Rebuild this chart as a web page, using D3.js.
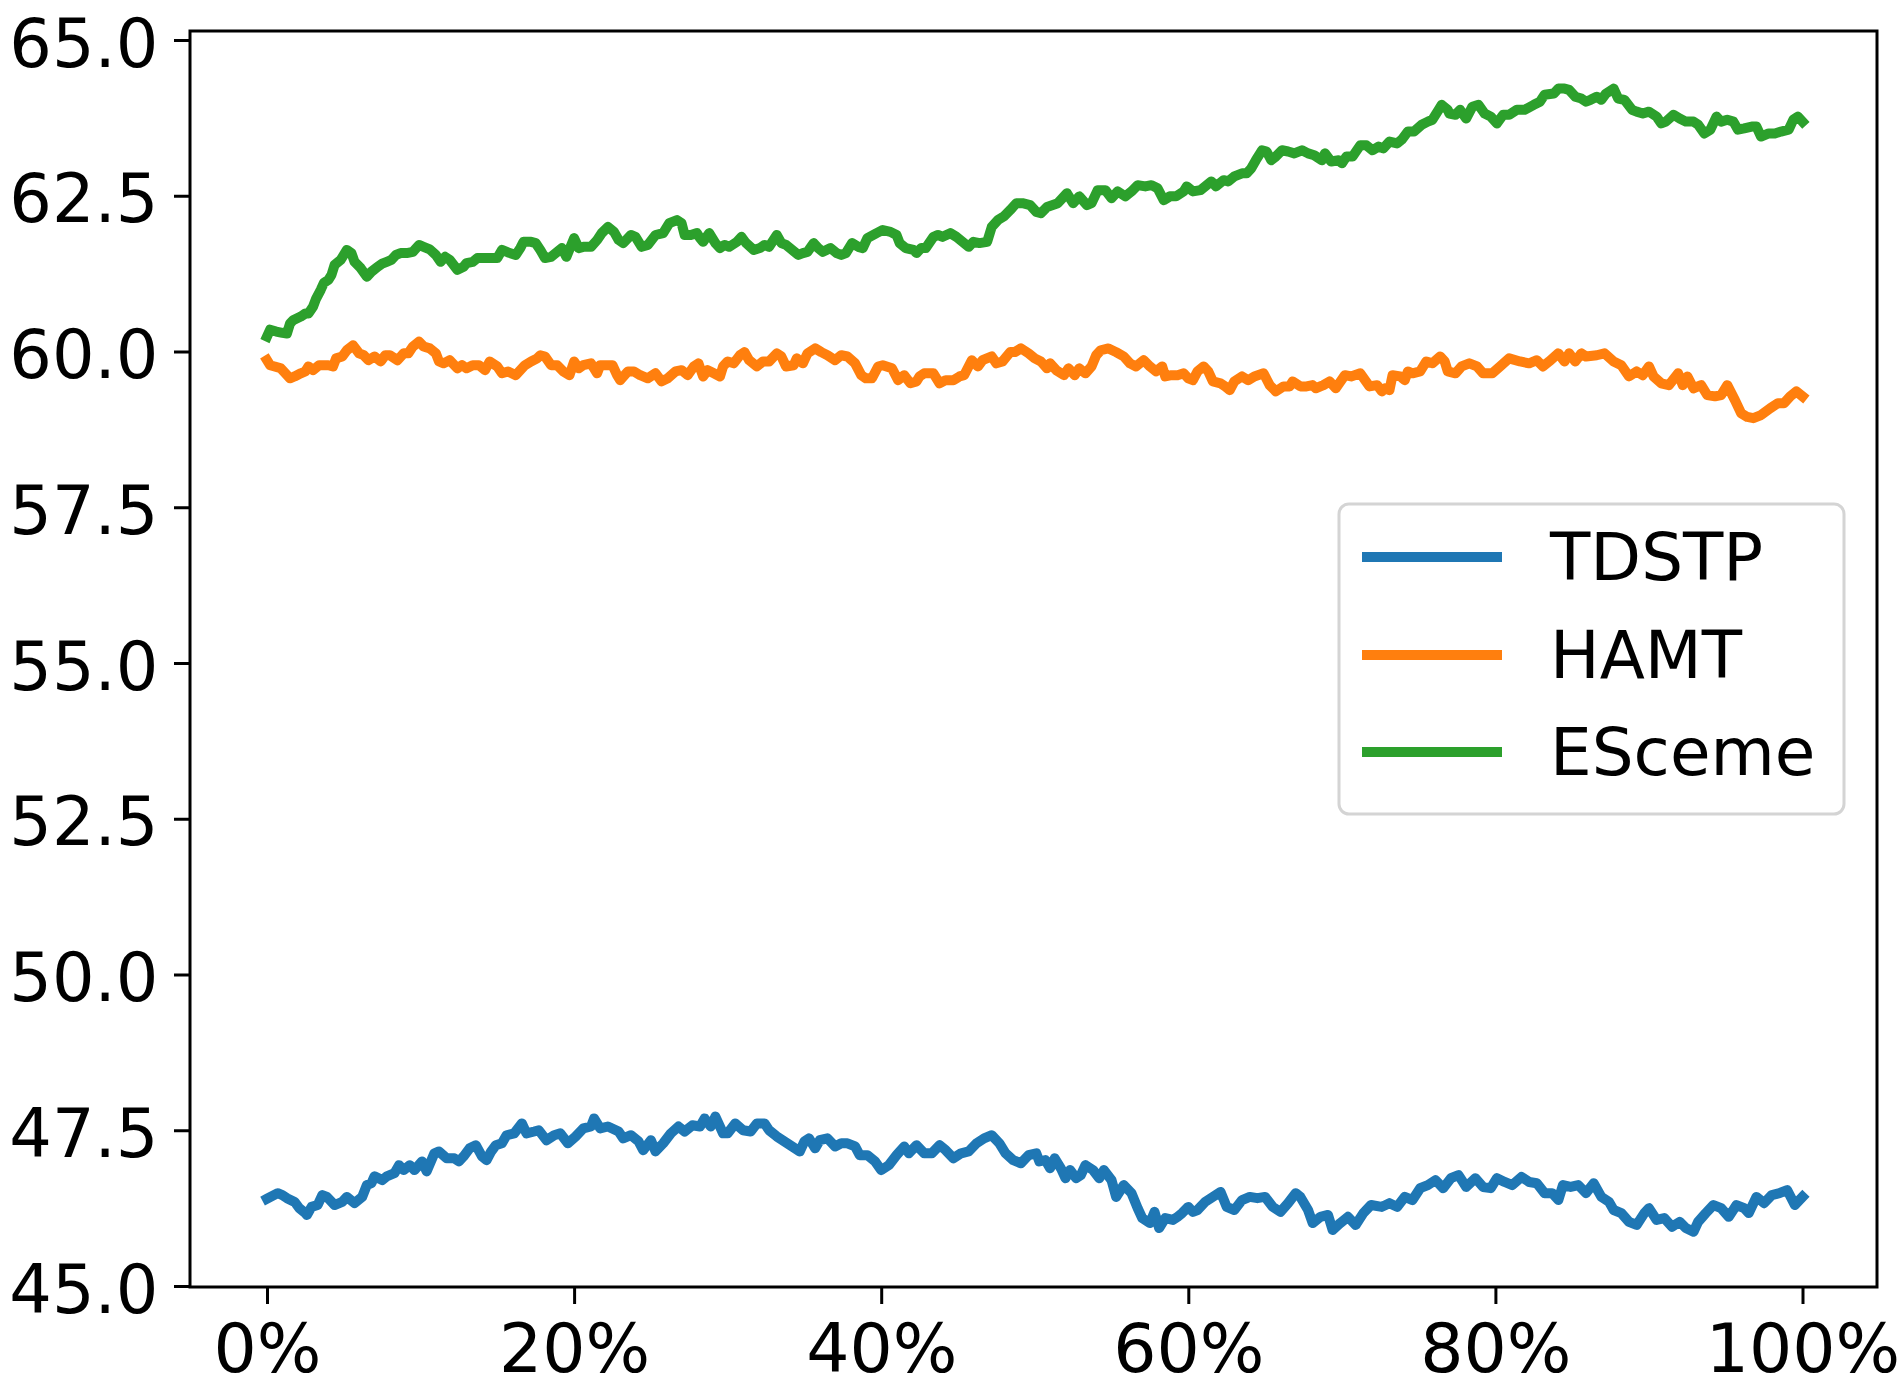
<!DOCTYPE html>
<html><head><meta charset="utf-8">
<script src="https://cdn.jsdelivr.net/npm/d3@7"></script>
<style>body{margin:0;background:#fff} text{font-family:"DejaVu Sans",sans-serif;fill:#000}</style>
</head><body><svg id="c" width="1902" height="1390"></svg>
<script>
const seriesNames = ["TDSTP", "HAMT", "ESceme"];
const seriesColors = ["#1f77b4", "#ff7f0e", "#2ca02c"];
const xTicks = [0, 20, 40, 60, 80, 100];
const yTicks = [45, 47.5, 50, 52.5, 55, 57.5, 60, 62.5, 65];

const tdstp = [[0,46.40],[0.7,46.49],[1.0,46.46],[1.3,46.41],[1.8,46.35],[2.1,46.25],[2.5,46.17],[2.6,46.14],[2.9,46.27],[3.3,46.30],[3.6,46.46],[3.9,46.43],[4.4,46.30],[4.9,46.35],[5.2,46.43],[5.7,46.33],[6.2,46.43],[6.5,46.62],[6.8,46.65],[7.0,46.76],[7.5,46.70],[7.8,46.76],[8.3,46.81],[8.6,46.94],[8.9,46.86],[9.3,46.94],[9.6,46.86],[10.1,47.00],[10.4,46.84],[10.9,47.13],[11.2,47.16],[11.7,47.05],[12.2,47.05],[12.5,47.00],[12.8,47.08],[13.2,47.21],[13.6,47.26],[14.0,47.08],[14.3,47.02],[14.6,47.16],[14.9,47.26],[15.3,47.29],[15.6,47.42],[16.1,47.45],[16.6,47.61],[16.9,47.45],[17.4,47.48],[17.7,47.50],[18.2,47.34],[18.7,47.42],[19.1,47.45],[19.6,47.29],[20.1,47.40],[20.6,47.53],[21.1,47.56],[21.3,47.69],[21.7,47.53],[22.2,47.56],[22.9,47.48],[23.2,47.37],[23.7,47.42],[24.2,47.32],[24.5,47.18],[25.0,47.34],[25.3,47.16],[25.8,47.29],[26.3,47.45],[26.8,47.56],[27.2,47.48],[27.7,47.58],[28.2,47.56],[28.5,47.69],[28.9,47.56],[29.2,47.72],[29.7,47.45],[30.0,47.45],[30.5,47.61],[31.0,47.50],[31.5,47.48],[31.9,47.61],[32.4,47.61],[32.7,47.50],[33.2,47.40],[33.7,47.32],[34.2,47.24],[34.7,47.16],[35.0,47.32],[35.3,47.37],[35.7,47.21],[36.0,47.34],[36.5,47.37],[37.0,47.24],[37.4,47.29],[37.8,47.29],[38.3,47.24],[38.6,47.10],[39.1,47.10],[39.6,47.00],[40.0,46.86],[40.5,46.94],[41.0,47.10],[41.5,47.24],[41.8,47.13],[42.3,47.26],[42.8,47.13],[43.3,47.13],[43.8,47.26],[44.2,47.18],[44.7,47.05],[45.2,47.13],[45.7,47.16],[46.2,47.29],[46.7,47.37],[47.2,47.42],[47.7,47.29],[48.1,47.13],[48.6,47.02],[49.1,46.97],[49.6,47.10],[50.1,47.13],[50.3,47.00],[50.7,47.02],[51.0,46.89],[51.3,47.05],[51.7,46.89],[52.0,46.73],[52.3,46.86],[52.7,46.73],[53.0,46.78],[53.3,46.94],[53.8,46.86],[54.2,46.73],[54.5,46.86],[55.0,46.70],[55.3,46.43],[55.8,46.62],[56.3,46.49],[56.7,46.25],[57.0,46.09],[57.5,46.01],[57.8,46.19],[58.1,45.93],[58.5,46.09],[59.0,46.06],[59.3,46.11],[59.6,46.17],[60.0,46.27],[60.3,46.19],[60.6,46.22],[61.1,46.35],[61.6,46.43],[62.1,46.51],[62.5,46.27],[63.0,46.22],[63.5,46.38],[64.0,46.43],[64.5,46.41],[65.0,46.43],[65.5,46.27],[66.0,46.19],[66.5,46.33],[67.0,46.49],[67.3,46.43],[67.8,46.22],[68.1,46.01],[68.6,46.11],[69.1,46.14],[69.4,45.90],[69.9,46.01],[70.4,46.11],[70.9,45.98],[71.4,46.17],[71.9,46.30],[72.6,46.27],[73.1,46.33],[73.6,46.27],[74.1,46.43],[74.6,46.38],[75.1,46.57],[75.6,46.62],[76.1,46.70],[76.6,46.57],[77.1,46.73],[77.6,46.78],[78.1,46.59],[78.7,46.73],[79.2,46.59],[79.7,46.57],[80.1,46.73],[80.6,46.67],[81.1,46.62],[81.7,46.75],[82.2,46.67],[82.7,46.65],[83.2,46.49],[83.7,46.49],[84.1,46.38],[84.4,46.62],[84.9,46.59],[85.4,46.62],[85.9,46.49],[86.4,46.65],[86.9,46.43],[87.4,46.35],[87.7,46.22],[88.2,46.17],[88.7,46.03],[89.2,45.98],[89.7,46.17],[90.0,46.25],[90.5,46.06],[91.0,46.09],[91.5,45.95],[92.0,46.03],[92.4,45.93],[92.9,45.87],[93.2,46.03],[93.7,46.17],[94.2,46.30],[94.7,46.25],[95.2,46.11],[95.7,46.30],[96.2,46.25],[96.5,46.17],[97.0,46.43],[97.5,46.33],[98.0,46.46],[98.5,46.49],[99.0,46.54],[99.5,46.30],[100,46.43]];

const hamt = [[0,59.86],[0.2,59.78],[0.5,59.76],[0.9,59.73],[1.2,59.65],[1.5,59.57],[1.8,59.60],[2.2,59.65],[2.5,59.68],[2.7,59.76],[3.0,59.70],[3.4,59.78],[3.7,59.78],[4.0,59.78],[4.3,59.76],[4.5,59.89],[4.9,59.92],[5.2,60.02],[5.6,60.10],[6.0,59.97],[6.3,59.94],[6.6,59.86],[7.0,59.92],[7.4,59.84],[7.7,59.94],[8.0,59.94],[8.5,59.86],[8.9,59.97],[9.2,59.97],[9.5,60.08],[9.9,60.16],[10.2,60.08],[10.6,60.05],[11.0,59.97],[11.2,59.84],[11.5,59.81],[11.9,59.86],[12.4,59.73],[12.7,59.78],[13.0,59.73],[13.4,59.78],[13.8,59.78],[14.2,59.70],[14.5,59.84],[15.0,59.76],[15.3,59.65],[15.7,59.68],[16.2,59.62],[16.5,59.70],[16.8,59.78],[17.2,59.84],[17.6,59.89],[17.8,59.94],[18.1,59.92],[18.5,59.78],[18.9,59.78],[19.3,59.68],[19.7,59.62],[20.0,59.84],[20.3,59.73],[20.6,59.78],[21.1,59.81],[21.5,59.65],[21.7,59.78],[22.2,59.78],[22.5,59.78],[22.8,59.62],[23.0,59.54],[23.5,59.68],[23.9,59.68],[24.3,59.62],[24.8,59.57],[25.3,59.65],[25.7,59.52],[26.1,59.57],[26.6,59.68],[27.0,59.70],[27.4,59.62],[27.8,59.76],[28.1,59.81],[28.4,59.60],[28.7,59.70],[29.1,59.65],[29.5,59.60],[29.7,59.76],[30.0,59.84],[30.4,59.81],[30.8,59.94],[31.1,59.99],[31.4,59.86],[31.9,59.76],[32.3,59.84],[32.7,59.84],[33.2,59.97],[33.5,59.92],[33.8,59.76],[34.3,59.78],[34.5,59.89],[34.9,59.81],[35.2,59.97],[35.7,60.05],[36.1,59.99],[36.5,59.94],[37.0,59.86],[37.4,59.94],[37.8,59.92],[38.3,59.81],[38.7,59.62],[39.0,59.57],[39.4,59.57],[39.8,59.76],[40.1,59.78],[40.7,59.73],[41.1,59.54],[41.5,59.62],[41.9,59.49],[42.3,59.52],[42.5,59.60],[42.8,59.65],[43.4,59.65],[43.8,59.49],[44.2,59.54],[44.7,59.54],[45.1,59.60],[45.4,59.62],[45.9,59.86],[46.3,59.76],[46.6,59.86],[47.2,59.92],[47.5,59.81],[47.9,59.84],[48.4,59.99],[48.7,59.99],[49.1,60.05],[49.6,59.97],[50.0,59.89],[50.4,59.84],[50.8,59.73],[51.0,59.81],[51.4,59.70],[51.9,59.62],[52.2,59.73],[52.6,59.62],[52.9,59.73],[53.3,59.65],[53.7,59.76],[54.0,59.94],[54.3,60.02],[54.8,60.05],[55.3,59.99],[55.8,59.92],[56.2,59.81],[56.6,59.76],[57.1,59.86],[57.5,59.76],[57.9,59.68],[58.3,59.76],[58.5,59.60],[58.9,59.62],[59.3,59.62],[59.7,59.65],[60.0,59.57],[60.3,59.54],[60.6,59.68],[61.0,59.76],[61.3,59.68],[61.6,59.52],[62.1,59.49],[62.4,59.44],[62.7,59.38],[63.0,59.52],[63.5,59.60],[63.9,59.54],[64.3,59.60],[64.9,59.65],[65.3,59.46],[65.7,59.36],[66.2,59.44],[66.6,59.44],[66.8,59.52],[67.3,59.44],[67.7,59.44],[68.1,59.46],[68.3,59.41],[68.8,59.46],[69.2,59.52],[69.6,59.41],[70.2,59.62],[70.6,59.60],[71.2,59.65],[71.8,59.44],[72.3,59.46],[72.6,59.36],[72.8,59.41],[73.1,59.38],[73.3,59.62],[73.8,59.60],[74.1,59.54],[74.3,59.68],[74.6,59.65],[75.1,59.68],[75.5,59.84],[75.9,59.81],[76.4,59.92],[76.7,59.84],[76.9,59.68],[77.4,59.65],[77.8,59.76],[78.3,59.81],[78.8,59.76],[79.2,59.65],[79.8,59.65],[80.3,59.76],[80.9,59.89],[81.6,59.84],[82.2,59.81],[82.7,59.86],[83.1,59.76],[83.5,59.84],[84.1,59.97],[84.5,59.84],[84.8,59.97],[85.2,59.84],[85.6,59.97],[85.9,59.92],[86.6,59.94],[87.1,59.97],[87.7,59.84],[88.2,59.78],[88.7,59.60],[89.2,59.68],[89.6,59.62],[90.0,59.76],[90.3,59.60],[90.8,59.49],[91.3,59.46],[91.9,59.65],[92.2,59.46],[92.5,59.60],[92.9,59.41],[93.4,59.46],[93.8,59.30],[94.3,59.28],[94.7,59.30],[95.1,59.46],[95.6,59.22],[96.0,59.01],[96.4,58.95],[96.8,58.93],[97.3,58.98],[97.9,59.09],[98.4,59.17],[98.8,59.17],[99.2,59.28],[99.6,59.36],[100,59.28]];

const esceme = [[0,60.24],[0.2,60.35],[0.6,60.32],[1.0,60.30],[1.3,60.29],[1.5,60.45],[1.7,60.50],[2.2,60.56],[2.5,60.61],[2.7,60.61],[3.0,60.72],[3.2,60.85],[3.5,60.99],[3.7,61.10],[4.0,61.15],[4.2,61.23],[4.4,61.39],[4.8,61.47],[5.2,61.63],[5.5,61.58],[5.7,61.44],[6.1,61.34],[6.5,61.20],[6.8,61.28],[7.2,61.36],[7.5,61.41],[7.8,61.44],[8.1,61.47],[8.4,61.55],[8.7,61.58],[9.1,61.58],[9.5,61.60],[9.9,61.71],[10.2,61.68],[10.6,61.64],[11.0,61.55],[11.3,61.44],[11.6,61.52],[11.9,61.47],[12.4,61.31],[12.8,61.36],[13.0,61.42],[13.4,61.44],[13.7,61.50],[14.1,61.50],[14.5,61.50],[15.0,61.50],[15.3,61.63],[15.7,61.59],[16.2,61.55],[16.5,61.66],[16.7,61.76],[17.2,61.76],[17.5,61.74],[17.8,61.63],[18.1,61.50],[18.5,61.52],[18.9,61.60],[19.2,61.66],[19.5,61.52],[20.0,61.82],[20.3,61.66],[20.6,61.68],[21.1,61.68],[21.5,61.79],[21.8,61.90],[22.2,62.00],[22.6,61.92],[22.9,61.79],[23.2,61.74],[23.7,61.87],[24.0,61.84],[24.4,61.68],[24.8,61.71],[25.3,61.87],[25.8,61.90],[26.2,62.06],[26.7,62.11],[27.0,62.06],[27.2,61.87],[27.6,61.87],[28.0,61.90],[28.2,61.82],[28.4,61.76],[28.8,61.90],[29.2,61.74],[29.5,61.66],[29.8,61.71],[30.1,61.68],[30.6,61.76],[30.9,61.84],[31.2,61.74],[31.7,61.63],[32.1,61.66],[32.4,61.71],[32.7,61.68],[33.2,61.87],[33.5,61.74],[33.8,61.71],[34.2,61.63],[34.6,61.55],[34.9,61.58],[35.2,61.60],[35.6,61.74],[35.9,61.66],[36.2,61.60],[36.7,61.66],[37.1,61.58],[37.4,61.55],[37.7,61.58],[38.1,61.74],[38.5,61.68],[38.8,61.66],[39.1,61.82],[39.7,61.90],[40.1,61.95],[40.6,61.92],[41.0,61.87],[41.2,61.74],[41.6,61.66],[42.1,61.63],[42.3,61.58],[42.6,61.66],[42.9,61.66],[43.4,61.84],[43.7,61.87],[44.0,61.84],[44.5,61.90],[44.9,61.84],[45.3,61.76],[45.7,61.68],[46.0,61.76],[46.4,61.74],[46.9,61.76],[47.2,62.00],[47.6,62.11],[48.0,62.17],[48.4,62.27],[48.8,62.38],[49.2,62.38],[49.7,62.35],[50.1,62.24],[50.4,62.22],[50.8,62.32],[51.5,62.38],[52.1,62.54],[52.5,62.38],[52.9,62.49],[53.4,62.35],[53.7,62.38],[54.1,62.59],[54.6,62.59],[55.0,62.46],[55.4,62.57],[55.9,62.49],[56.3,62.57],[56.7,62.67],[57.2,62.65],[57.6,62.67],[58.0,62.62],[58.4,62.43],[58.8,62.49],[59.2,62.49],[59.7,62.57],[59.9,62.65],[60.3,62.57],[60.8,62.59],[61.2,62.67],[61.5,62.73],[61.8,62.65],[62.3,62.75],[62.6,62.73],[63.0,62.81],[63.5,62.86],[63.8,62.86],[64.1,62.94],[64.4,63.07],[64.8,63.23],[65.1,63.21],[65.4,63.07],[65.7,63.13],[66.1,63.23],[66.5,63.21],[66.9,63.18],[67.4,63.23],[67.8,63.18],[68.2,63.15],[68.7,63.07],[68.9,63.18],[69.3,63.05],[69.8,63.07],[70.0,63.02],[70.3,63.13],[70.7,63.13],[71.2,63.31],[71.6,63.31],[72.0,63.23],[72.4,63.29],[72.7,63.26],[73.1,63.37],[73.6,63.34],[73.9,63.40],[74.3,63.53],[74.7,63.53],[75.2,63.64],[75.6,63.69],[75.9,63.72],[76.3,63.88],[76.5,63.96],[76.9,63.88],[77.0,63.82],[77.4,63.80],[77.7,63.88],[78.1,63.74],[78.5,63.93],[78.9,63.96],[79.3,63.82],[79.7,63.77],[80.1,63.66],[80.5,63.80],[80.9,63.80],[81.4,63.88],[81.9,63.88],[82.5,63.96],[82.9,64.01],[83.2,64.12],[83.8,64.14],[84.1,64.22],[84.5,64.22],[84.8,64.20],[85.2,64.09],[85.6,64.06],[85.9,64.01],[86.2,64.04],[86.6,64.09],[86.9,64.04],[87.2,64.14],[87.7,64.22],[88.0,64.06],[88.4,64.04],[88.9,63.88],[89.2,63.85],[89.6,63.82],[90.0,63.85],[90.5,63.77],[90.8,63.66],[91.1,63.69],[91.6,63.80],[92.0,63.74],[92.4,63.69],[92.9,63.69],[93.2,63.64],[93.6,63.50],[94.0,63.56],[94.4,63.77],[94.7,63.69],[95.1,63.72],[95.5,63.69],[95.8,63.56],[96.2,63.58],[96.7,63.61],[97.0,63.61],[97.3,63.45],[97.8,63.50],[98.2,63.50],[98.6,63.53],[99.1,63.56],[99.4,63.72],[99.7,63.77],[100,63.69]];

const seriesData = [tdstp, hamt, esceme];

const svg = d3.select("#c");
const frame = {left: 190, right: 1877, top: 31, bottom: 1287};
const x = d3.scaleLinear().domain([0, 100]).range([267, 1802.5]);
const y = d3.scaleLinear().domain([45, 65]).range([1286, 40]);

// lines
const line = d3.line().x(d => x(d[0])).y(d => y(d[1]));
svg.append("g").selectAll("path").data(seriesData).join("path")
  .attr("d", line)
  .attr("fill", "none")
  .attr("stroke", (d, i) => seriesColors[i])
  .attr("stroke-width", 10)
  .attr("stroke-linejoin", "round")
  .attr("stroke-linecap", "square");

// y axis
const yAxis = svg.append("g").attr("transform", `translate(${frame.left},0)`)
  .call(d3.axisLeft(y).tickValues(yTicks).tickSize(16).tickPadding(15.5).tickFormat(d3.format(".1f")));
yAxis.select(".domain").remove();
yAxis.selectAll(".tick line").attr("stroke", "#000").attr("stroke-width", 3);
yAxis.selectAll(".tick text").attr("font-size", 67).attr("font-family", "DejaVu Sans").attr("dy", "0.39em").attr("fill", "#000");

// x axis
const xAxis = svg.append("g").attr("transform", `translate(0,${frame.bottom})`)
  .call(d3.axisBottom(x).tickValues(xTicks).tickSize(17).tickFormat(d => d + "%"));
xAxis.select(".domain").remove();
xAxis.selectAll(".tick line").attr("stroke", "#000").attr("stroke-width", 3);
xAxis.selectAll(".tick text").attr("font-size", 68).attr("font-family", "DejaVu Sans").attr("y", 85).attr("dy", null).attr("fill", "#000");

// frame
svg.append("rect")
  .attr("x", frame.left).attr("y", frame.top)
  .attr("width", frame.right - frame.left).attr("height", frame.bottom - frame.top)
  .attr("fill", "none").attr("stroke", "#000").attr("stroke-width", 3);

// legend
const lg = svg.append("g");
lg.append("rect").attr("x", 1339).attr("y", 504).attr("width", 505).attr("height", 310)
  .attr("rx", 10).attr("fill", "#fff").attr("fill-opacity", 0.8)
  .attr("stroke", "#d4d4d4").attr("stroke-width", 3);
const rowY = [557, 655, 752];
seriesNames.forEach((name, i) => {
  lg.append("line").attr("x1", 1362).attr("x2", 1502).attr("y1", rowY[i]).attr("y2", rowY[i])
    .attr("stroke", seriesColors[i]).attr("stroke-width", 10);
  lg.append("text").attr("x", 1550).attr("y", rowY[i] + 23).attr("font-size", 66).text(name);
});
</script></body></html>
